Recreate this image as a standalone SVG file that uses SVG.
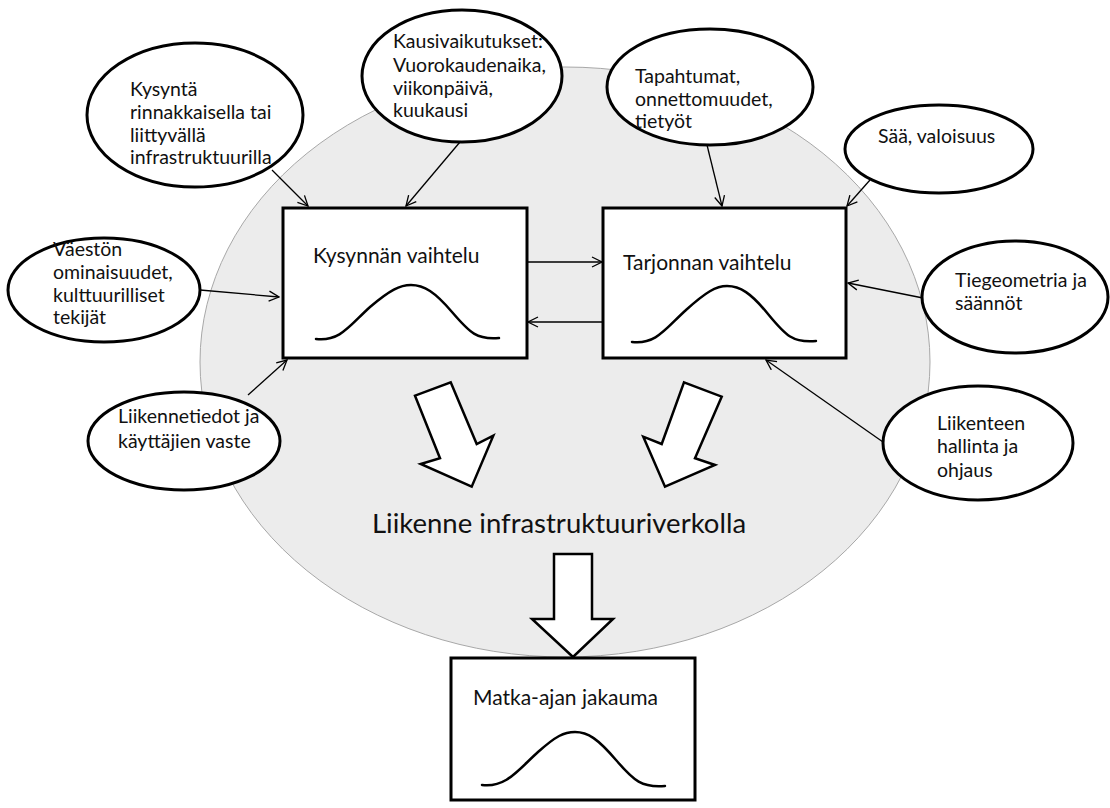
<svg xmlns="http://www.w3.org/2000/svg" width="1110" height="808" viewBox="0 0 1110 808">
<defs>
<marker id="ah" viewBox="0 0 12 12" refX="11" refY="6" markerWidth="12" markerHeight="12" markerUnits="userSpaceOnUse" orient="auto">
<path d="M1,1 L11,6 L1,11" fill="none" stroke="#000" stroke-width="1.3"/>
</marker>
</defs>
<style>
.t{font-family:Lato,"Open Sans","Liberation Sans",sans-serif;fill:#111;}
.s{font-size:19.5px;}
.m{font-size:21px;}
.b{font-size:27.5px;}
.el{fill:#fff;stroke:#000;stroke-width:3;}
.bx{fill:#fff;stroke:#000;stroke-width:3;}
.cv{fill:none;stroke:#000;stroke-width:2.5;stroke-linecap:round;}
.cn{fill:none;stroke:#000;stroke-width:1.3;marker-end:url(#ah);}
.ba{fill:#fff;stroke:#000;stroke-width:2.5;stroke-linejoin:miter;}
</style>
<rect width="1110" height="808" fill="#fff"/>
<g id="bg">
<ellipse cx="565" cy="362" rx="365" ry="295" fill="#ececec" stroke="#a8a8a8" stroke-width="1"/>
</g>
<g id="box-demand">
<rect class="bx" x="283" y="208" width="244" height="150"/>
<text class="t m" x="313" y="263">Kysynnän vaihtelu</text>
<path class="cv" d="M316,339 C340,342 350,325 370,307 C390,290 400,285 411,285 C424,285 435,292 452,312 C470,333 477,340 499,338"/>
</g>
<g id="box-supply">
<rect class="bx" x="603" y="208" width="243" height="150"/>
<text class="t m" x="623" y="270">Tarjonnan vaihtelu</text>
<path class="cv" d="M632,342 C656,345 666,328 686,310 C706,292 716,286 727,286 C740,286 751,293 768,314 C786,336 793,343 816,341"/>
</g>
<g id="box-traveltime">
<rect class="bx" x="451" y="658" width="244" height="142" stroke-width="2.5"/>
<text class="t m" x="473" y="705">Matka-ajan jakauma</text>
<path class="cv" d="M482,785 C506,788 518,770 538,752 C556,736 564,732 575,732 C588,732 598,739 616,760 C634,781 642,788 665,786"/>
</g>
<g id="n-kysynta">
<ellipse class="el" cx="195" cy="115" rx="108" ry="72"/>
<text class="t s" x="130" y="96">Kysyntä</text>
<text class="t s" x="130" y="119">rinnakkaisella tai</text>
<text class="t s" x="130" y="142">liittyvällä</text>
<text class="t s" x="130" y="164">infrastruktuurilla</text>
</g>
<g id="n-kausi">
<ellipse class="el" cx="462" cy="76" rx="100" ry="66"/>
<text class="t s" x="393" y="48">Kausivaikutukset:</text>
<text class="t s" x="393" y="72">Vuorokaudenaika,</text>
<text class="t s" x="393" y="95">viikonpäivä,</text>
<text class="t s" x="393" y="117">kuukausi</text>
</g>
<g id="n-tapahtumat">
<ellipse class="el" cx="710" cy="87" rx="103" ry="58"/>
<text class="t s" x="635" y="83">Tapahtumat,</text>
<text class="t s" x="635" y="106">onnettomuudet,</text>
<text class="t s" x="635" y="128">tietyöt</text>
</g>
<g id="n-saa">
<ellipse class="el" cx="939" cy="149" rx="94" ry="44"/>
<text class="t s" x="878" y="143">Sää, valoisuus</text>
</g>
<g id="n-tiegeometria">
<ellipse class="el" cx="1015" cy="297" rx="93" ry="56"/>
<text class="t s" x="955" y="287">Tiegeometria ja</text>
<text class="t s" x="955" y="310">säännöt</text>
</g>
<g id="n-liikenteen">
<ellipse class="el" cx="978" cy="443" rx="95" ry="57"/>
<text class="t s" x="937" y="430">Liikenteen</text>
<text class="t s" x="937" y="453">hallinta ja</text>
<text class="t s" x="937" y="477">ohjaus</text>
</g>
<g id="n-vaeston">
<ellipse class="el" cx="104" cy="290" rx="96" ry="52"/>
<text class="t s" x="53" y="256">Väestön</text>
<text class="t s" x="53" y="279">ominaisuudet,</text>
<text class="t s" x="53" y="302">kulttuurilliset</text>
<text class="t s" x="53" y="324">tekijät</text>
</g>
<g id="n-liikennetiedot">
<ellipse class="el" cx="184" cy="441" rx="96" ry="49"/>
<text class="t s" x="118" y="423">Liikennetiedot ja</text>
<text class="t s" x="118" y="448">käyttäjien vaste</text>
</g>
<g id="center-label">
<text class="t b" x="372" y="533">Liikenne infrastruktuuriverkolla</text>
</g>
<g id="connectors">
<line class="cn" x1="272" y1="170" x2="308" y2="206"/>
<line class="cn" x1="460" y1="142" x2="406" y2="206"/>
<line class="cn" x1="707" y1="145" x2="722" y2="206"/>
<line class="cn" x1="870" y1="180" x2="847" y2="206"/>
<line class="cn" x1="923" y1="298" x2="848" y2="283"/>
<line class="cn" x1="883" y1="442" x2="766" y2="360"/>
<line class="cn" x1="200" y1="290" x2="279" y2="297"/>
<line class="cn" x1="248" y1="395" x2="287" y2="360"/>
<line class="cn" x1="527" y1="262" x2="602" y2="262"/>
<line class="cn" x1="603" y1="322" x2="528" y2="322"/>
<polygon class="ba" points="450.7,382.3 476.7,444 493.3,435.7 471.7,486.7 420.7,464 440,458.3 415,395.7"/>
<polygon class="ba" points="684,382.3 721.7,396.7 695,458.3 715,465 665,486.7 643.3,436.7 661.7,444"/>
<polygon class="ba" points="554,554 592,554 592,619 613,619 573,657 532,619 554,619"/>
</g>
</svg>
